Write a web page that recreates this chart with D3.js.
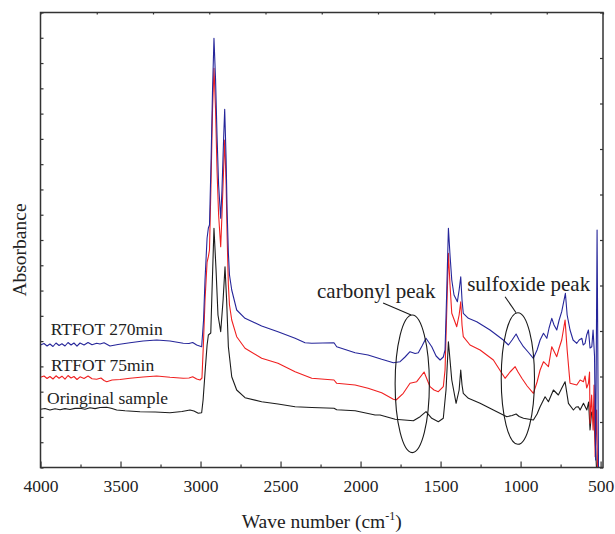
<!DOCTYPE html>
<html>
<head>
<meta charset="utf-8">
<script src="https://cdn.jsdelivr.net/npm/d3@7"></script>
<style>
  body { margin: 0; background: #fff; }
  svg text { font-family: "Liberation Serif", "Times New Roman", serif; fill: #222; }
</style>
</head>
<body>
<div id="chart"></div>
<script>
// spectra: [wave number, absorbance (offset, arbitrary units)]
const original = [
  [4000,0.567],[3972,0.575],[3941,0.56],[3909,0.572],[3878,0.562],[3847,0.574],[3816,0.565],
  [3784,0.576],[3753,0.577],[3722,0.568],[3691,0.582],[3659,0.574],[3628,0.585],[3586,0.587],
  [3553,0.575],[3524,0.56],[3472,0.552],[3378,0.543],[3284,0.54],[3191,0.533],[3116,0.545],
  [3066,0.56],[3041,0.55],[3014,0.527],[2993,0.533],[2984,0.66],[2972,0.93],[2959,1.21],
  [2951,1.31],[2936,1.33],[2928,1.76],[2916,2.377],[2903,1.96],[2891,1.51],[2874,1.343],
  [2859,1.66],[2847,1.993],[2837,1.66],[2826,1.193],[2805,0.893],[2774,0.76],[2722,0.683],
  [2618,0.643],[2516,0.62],[2409,0.593],[2305,0.585],[2166,0.577],[2149,0.562],[2034,0.553],
  [1909,0.51],[1878,0.51],[1784,0.467],[1670,0.453],[1628,0.493],[1591,0.543],[1555,0.477],
  [1514,0.443],[1483,0.477],[1466,0.76],[1451,1.243],[1441,1.06],[1430,0.86],[1403,0.627],
  [1384,0.76],[1374,0.96],[1366,0.81],[1358,0.727],[1326,0.677],[1253,0.627],[1170,0.56],
  [1086,0.493],[1053,0.505],[1028,0.52],[1009,0.495],[982,0.477],[920,0.46],[897,0.52],
  [878,0.593],[847,0.693],[826,0.643],[795,0.76],[764,0.71],[743,0.777],[722,0.843],
  [701,0.627],[670,0.56],[653,0.59],[639,0.593],[628,0.56],[607,0.627],[586,0.56],
  [575,0.64],[566,0.36],[556,0.54],[545,0.493],[534,0.26],[525,-0.05]
];
const rtfot75 = [
  [4000,0.887],[3978,0.90],[3959,0.875],[3941,0.895],[3922,0.87],[3903,0.902],[3884,0.878],
  [3866,0.898],[3847,0.868],[3828,0.905],[3809,0.88],[3791,0.895],[3772,0.865],[3753,0.892],
  [3728,0.875],[3703,0.90],[3678,0.872],[3649,0.867],[3622,0.88],[3603,0.855],[3586,0.843],
  [3553,0.86],[3503,0.865],[3441,0.877],[3359,0.89],[3274,0.90],[3191,0.887],[3108,0.877],
  [3072,0.88],[3049,0.893],[3024,0.87],[3003,0.86],[2991,0.88],[2981,1.26],[2972,1.66],
  [2959,2.04],[2951,2.093],[2944,2.16],[2934,2.86],[2925,3.56],[2916,3.977],[2906,3.56],
  [2897,2.96],[2887,2.51],[2874,2.193],[2866,2.51],[2856,2.96],[2849,3.26],[2840,2.81],
  [2834,2.31],[2826,1.81],[2819,1.61],[2805,1.46],[2774,1.293],[2722,1.177],[2618,1.077],
  [2516,1.027],[2409,0.943],[2305,0.877],[2166,0.86],[2149,0.827],[2034,0.81],[1953,0.777],
  [1868,0.733],[1795,0.667],[1778,0.66],[1733,0.727],[1691,0.827],[1649,0.843],[1603,0.94],
  [1566,0.793],[1541,0.76],[1514,0.743],[1483,0.793],[1472,0.96],[1463,1.46],[1451,2.127],
  [1441,1.81],[1430,1.527],[1399,1.393],[1384,1.51],[1374,1.643],[1366,1.41],[1358,1.293],
  [1316,1.21],[1253,1.16],[1170,1.06],[1097,0.877],[1066,0.94],[1034,0.993],[1016,0.94],
  [992,0.877],[959,0.80],[920,0.727],[897,0.84],[878,0.96],[857,1.043],[826,0.993],
  [805,1.193],[774,1.093],[759,1.18],[743,1.26],[722,1.46],[709,1.16],[691,0.827],
  [649,0.81],[628,0.86],[607,0.843],[597,0.90],[587,0.78],[576,0.827],[569,0.94],
  [566,0.427],[556,0.71],[547,0.36],[541,0.81],[534,0.093],[525,0.56],[519,-0.04]
];
const rtfot270 = [
  [4000,1.21],[3978,1.225],[3959,1.20],[3941,1.22],[3922,1.195],[3903,1.23],[3884,1.205],
  [3866,1.222],[3847,1.20],[3828,1.235],[3809,1.21],[3791,1.23],[3772,1.198],[3753,1.23],
  [3728,1.21],[3703,1.235],[3678,1.212],[3649,1.227],[3628,1.22],[3603,1.232],[3566,1.20],
  [3516,1.215],[3441,1.233],[3359,1.25],[3274,1.26],[3191,1.25],[3108,1.227],[3072,1.225],
  [3049,1.235],[3024,1.21],[2993,1.193],[2981,1.46],[2972,1.86],[2959,2.28],[2951,2.38],
  [2944,2.41],[2934,3.06],[2925,3.76],[2916,4.277],[2906,3.86],[2897,3.31],[2887,2.81],
  [2874,2.477],[2866,2.76],[2856,3.26],[2849,3.567],[2840,3.06],[2834,2.56],[2826,2.13],
  [2819,1.91],[2805,1.76],[2774,1.56],[2722,1.477],[2618,1.40],[2516,1.343],[2409,1.277],
  [2347,1.233],[2305,1.227],[2166,1.233],[2149,1.193],[2034,1.133],[1953,1.11],[1868,1.067],
  [1795,1.033],[1753,1.043],[1722,1.09],[1691,1.143],[1659,1.125],[1639,1.133],[1616,1.20],
  [1591,1.277],[1555,1.193],[1528,1.10],[1503,1.06],[1483,1.09],[1472,1.16],[1463,1.66],
  [1451,2.377],[1441,2.11],[1430,1.86],[1416,1.71],[1395,1.643],[1384,1.76],[1374,1.893],
  [1366,1.66],[1358,1.527],[1326,1.477],[1274,1.443],[1191,1.36],[1108,1.26],[1076,1.21],
  [1053,1.26],[1028,1.32],[1009,1.26],[982,1.193],[953,1.14],[920,1.077],[897,1.16],
  [878,1.26],[857,1.327],[836,1.277],[822,1.38],[805,1.477],[791,1.41],[774,1.36],
  [759,1.46],[743,1.543],[720,1.727],[709,1.51],[691,1.36],[672,1.26],[649,1.227],
  [634,1.26],[617,1.277],[609,1.21],[597,1.227],[587,1.31],[576,1.36],[566,1.18],
  [555,1.193],[547,1.36],[538,1.10],[531,0.06],[522,2.36],[513,-0.05]
];

const seriesNames = ["Oringinal sample", "RTFOT 75min", "RTFOT 270min"];
const seriesColors = ["#1c1c1c", "#f02020", "#26269a"];
const xTickValues = [4000, 3500, 3000, 2500, 2000, 1500, 1000, 500];

// label spots, in data units
const labelSpots = [[3959, 0.62], [3934, 0.953], [3936, 1.31]];
const peakNotes = [
  { text: "carbonyl peak", at: [2272, 1.68], from: [1859, 1.63], to: [1684, 1.51], center: [1677, 0.822], rw: 107, ra: 0.688 },
  { text: "sulfoxide peak", at: [1334, 1.75], from: [1097, 1.693], to: [1028, 1.533], center: [1017, 0.875], rw: 104, ra: 0.658 }
];

const serif = "'Liberation Serif', 'Times New Roman', serif";
const dims = { width: 615, height: 534, left: 40.5, right: 603, top: 12.5, bottom: 467.5 };

const x = d3.scaleLinear().domain([4000, 485]).range([dims.left, dims.right]);
const y = d3.scaleLinear().domain([-0.015, 4.535]).range([dims.bottom, dims.top]);

const svg = d3.select("#chart").append("svg")
  .attr("width", dims.width)
  .attr("height", dims.height)
  .attr("font-family", serif);

svg.append("defs").append("clipPath").attr("id", "plot")
  .append("rect")
  .attr("x", dims.left).attr("y", dims.top)
  .attr("width", dims.right - dims.left)
  .attr("height", dims.bottom - dims.top);

const line = d3.line().x(d => x(d[0])).y(d => y(d[1]));

svg.append("g")
  .attr("clip-path", "url(#plot)")
  .selectAll("path")
  .data([original, rtfot75, rtfot270])
  .join("path")
  .attr("d", line)
  .attr("fill", "none")
  .attr("stroke", (d, i) => seriesColors[i])
  .attr("stroke-width", 1.1)
  .attr("stroke-linejoin", "round");

// axes: bottom with labels, others ticks only (all pointing inward)
const bottomAxis = svg.append("g")
  .attr("transform", `translate(0,${dims.bottom})`)
  .call(d3.axisBottom(x).tickValues(xTickValues).tickSize(-6).tickPadding(12).tickFormat(d3.format("d")));
bottomAxis.attr("font-family", serif);
bottomAxis.selectAll("text").attr("font-size", 17.5).attr("dy", "0.71em");

svg.append("g")
  .attr("transform", `translate(0,${dims.bottom})`)
  .call(d3.axisBottom(x).tickValues(d3.range(3750, 485, -500)).tickSize(-3).tickFormat(""));

const yStep = (y.domain()[1] - y.domain()[0]) / 18;
svg.append("g")
  .attr("transform", `translate(${dims.left},0)`)
  .call(d3.axisLeft(y).tickValues(d3.range(19).map(i => y.domain()[0] + i * yStep)).tickSize(-3).tickFormat(""));

const rStep = (y.domain()[1] - y.domain()[0]) / 10;
svg.append("g")
  .attr("transform", `translate(${dims.right},0)`)
  .call(d3.axisRight(y).tickValues(d3.range(11).map(i => y.domain()[0] + i * rStep)).tickSize(-3).tickFormat(""));

const tStep = (x.domain()[0] - x.domain()[1]) / 10;
svg.append("g")
  .attr("transform", `translate(0,${dims.top})`)
  .call(d3.axisTop(x).tickValues(d3.range(11).map(i => x.domain()[0] - i * tStep)).tickSize(-2).tickFormat(""));

svg.selectAll(".tick line").attr("stroke", "#333").attr("stroke-width", 1.2);
svg.selectAll(".domain").remove();

// plain frame
svg.append("rect")
  .attr("x", dims.left).attr("y", dims.top)
  .attr("width", dims.right - dims.left)
  .attr("height", dims.bottom - dims.top)
  .attr("fill", "none")
  .attr("stroke", "#333")
  .attr("stroke-width", 1.5);

// axis titles
const xTitle = svg.append("text")
  .attr("x", (dims.left + dims.right) / 2)
  .attr("y", 528)
  .attr("text-anchor", "middle")
  .attr("font-size", 19.5);
xTitle.append("tspan").text("Wave number (cm");
xTitle.append("tspan").text("-1").attr("font-size", 12).attr("dy", -8);
xTitle.append("tspan").text(")").attr("dy", 8);

svg.append("text")
  .attr("transform", `translate(25.5,${(dims.top + dims.bottom) / 2 + 10}) rotate(-90)`)
  .attr("text-anchor", "middle")
  .attr("font-size", 19.5)
  .text("Absorbance");

// series labels
svg.append("g")
  .selectAll("text")
  .data(seriesNames)
  .join("text")
  .attr("x", (d, i) => x(labelSpots[i][0]))
  .attr("y", (d, i) => y(labelSpots[i][1]))
  .attr("font-size", 17.5)
  .text(d => d);

// peak annotations: ellipse + leader + text
const notes = svg.append("g").selectAll("g").data(peakNotes).join("g");
notes.append("ellipse")
  .attr("cx", d => x(d.center[0]))
  .attr("cy", d => y(d.center[1]))
  .attr("rx", d => x(d.center[0] - d.rw) - x(d.center[0]))
  .attr("ry", d => y(d.center[1]) - y(d.center[1] + d.ra))
  .attr("fill", "none")
  .attr("stroke", "#1a1a1a")
  .attr("stroke-width", 1.1);
notes.append("line")
  .attr("x1", d => x(d.from[0])).attr("y1", d => y(d.from[1]))
  .attr("x2", d => x(d.to[0])).attr("y2", d => y(d.to[1]))
  .attr("stroke", "#1a1a1a")
  .attr("stroke-width", 1.1);
notes.append("text")
  .attr("x", d => x(d.at[0]))
  .attr("y", d => y(d.at[1]))
  .attr("font-size", 21)
  .text(d => d.text);
</script>
</body>
</html>
